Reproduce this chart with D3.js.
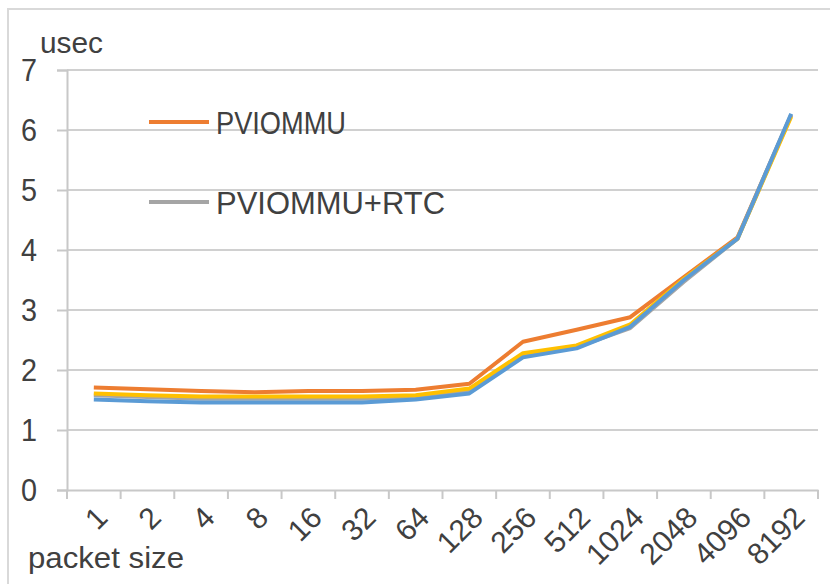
<!DOCTYPE html>
<html>
<head>
<meta charset="utf-8">
<script src="https://cdn.jsdelivr.net/npm/d3@7"></script>
<style>
  body { margin: 0; background: #fff; }
  svg text { font-family: "Liberation Sans", Arial, sans-serif; fill: #404040; }
</style>
</head>
<body>
<div id="chart"></div>
<script>
// packet sizes on the x axis
const packetSizes = ["1", "2", "4", "8", "16", "32", "64", "128", "256", "512", "1024", "2048", "4096", "8192"];

// latency in usec
const pviommu    = [1.71, 1.68, 1.65, 1.63, 1.65, 1.65, 1.67, 1.77, 2.47, 2.67, 2.88, 3.55, 4.21, 6.25];
const pviommuRtc = [1.58, 1.55, 1.52, 1.52, 1.52, 1.52, 1.55, 1.66, 2.24, 2.38, 2.70, 3.47, 4.19, 6.25];
const series3    = [1.61, 1.58, 1.56, 1.56, 1.56, 1.56, 1.58, 1.69, 2.28, 2.41, 2.76, 3.52, 4.19, 6.22];
const series4    = [1.51, 1.48, 1.46, 1.46, 1.46, 1.46, 1.51, 1.61, 2.21, 2.36, 2.72, 3.50, 4.19, 6.27];

const yTickValues = [0, 1, 2, 3, 4, 5, 6, 7];

const width = 830,
    height = 584,
    leftMargin = 67,
    rightEdge = 818,
    topY = 70,
    bottomY = 490;

const svg = d3.select('#chart')
    .append('svg')
    .attr('width', width)
    .attr('height', height);

// outer frame of the chart
svg.append('path')
    .attr('d', `M8,${height} L8,9 L${width},9`)
    .attr('fill', 'none')
    .attr('stroke', '#d9d9d9')
    .attr('stroke-width', 2);

const scaleX = d3.scaleBand()
    .domain(packetSizes)
    .range([leftMargin, rightEdge]);

const scaleY = d3.scaleLinear()
    .domain([0, 7])
    .range([bottomY, topY]);

// gridlines
svg.append('g')
    .selectAll('line')
    .data(yTickValues.slice(1))
    .enter()
    .append('line')
    .attr('x1', leftMargin)
    .attr('x2', rightEdge)
    .attr('y1', d => scaleY(d))
    .attr('y2', d => scaleY(d))
    .attr('stroke', '#d0d0d0')
    .attr('stroke-width', 2);

// y axis
const yAxis = svg.append('g')
    .attr('transform', `translate(${leftMargin},0)`)
    .call(d3.axisLeft(scaleY).tickValues(yTickValues).tickFormat(d3.format('d')).tickSize(10).tickPadding(20));
yAxis.select('.domain').attr('stroke', '#c8c8c8').attr('stroke-width', 2);
yAxis.selectAll('.tick line').attr('stroke', '#c8c8c8').attr('stroke-width', 2);
yAxis.selectAll('.tick text')
    .attr('font-size', 32)
    .attr('fill', '#404040')
    .attr('textLength', 16)
    .attr('lengthAdjust', 'spacingAndGlyphs')
    .style('font-family', '"Liberation Sans", Arial, sans-serif');

// x axis
const xAxis = svg.append('g')
    .attr('transform', `translate(0,${bottomY})`)
    .call(d3.axisBottom(scaleX).tickSize(0).tickFormat(''));
xAxis.select('.domain').attr('stroke', '#c8c8c8').attr('stroke-width', 2);

// tick marks sit on the band edges
const edges = packetSizes.map(d => scaleX(d)).concat([rightEdge]);
svg.append('g')
    .selectAll('line')
    .data(edges)
    .enter()
    .append('line')
    .attr('x1', d => d)
    .attr('x2', d => d)
    .attr('y1', bottomY)
    .attr('y2', bottomY + 9)
    .attr('stroke', '#c8c8c8')
    .attr('stroke-width', 2);

// rotated category labels
svg.append('g')
    .selectAll('text')
    .data(packetSizes)
    .enter()
    .append('text')
    .attr('transform', d => `translate(${scaleX(d) + scaleX.bandwidth() / 2 + 8},${bottomY + 22}) rotate(-45)`)
    .attr('text-anchor', 'end')
    .attr('dy', '0.35em')
    .attr('font-size', 30)
    .text(d => d);

// lines
const line = d3.line()
    .x((d, i) => scaleX(packetSizes[i]) + scaleX.bandwidth() / 2)
    .y(d => scaleY(d));

const allSeries = [
    { values: pviommu, color: '#ED7D31' },
    { values: pviommuRtc, color: '#A5A5A5' },
    { values: series3, color: '#FFC000' },
    { values: series4, color: '#5B9BD5' }
];

svg.append('g')
    .selectAll('path')
    .data(allSeries)
    .enter()
    .append('path')
    .attr('d', d => line(d.values))
    .attr('fill', 'none')
    .attr('stroke', d => d.color)
    .attr('stroke-width', 4)
    .attr('stroke-linejoin', 'round');

// legend
const legend = [
    { name: 'PVIOMMU', color: '#ED7D31', y: 122 },
    { name: 'PVIOMMU+RTC', color: '#A5A5A5', y: 202 }
];
const legendG = svg.append('g');
legendG.selectAll('line')
    .data(legend)
    .enter()
    .append('line')
    .attr('x1', 149)
    .attr('x2', 209)
    .attr('y1', d => d.y)
    .attr('y2', d => d.y)
    .attr('stroke', d => d.color)
    .attr('stroke-width', 4);
legendG.selectAll('text')
    .data(legend)
    .enter()
    .append('text')
    .attr('x', 216)
    .attr('y', d => d.y + 12)
    .attr('font-size', 31)
    .attr('textLength', d => d.name === 'PVIOMMU' ? 130 : 229)
    .attr('lengthAdjust', 'spacingAndGlyphs')
    .text(d => d.name);

// axis titles
svg.append('text')
    .attr('x', 40)
    .attr('y', 53)
    .attr('font-size', 29)
    .attr('textLength', 63)
    .attr('lengthAdjust', 'spacingAndGlyphs')
    .text('usec');

svg.append('text')
    .attr('x', 28)
    .attr('y', 568)
    .attr('font-size', 30)
    .attr('textLength', 156)
    .attr('lengthAdjust', 'spacingAndGlyphs')
    .text('packet size');
</script>
</body>
</html>
